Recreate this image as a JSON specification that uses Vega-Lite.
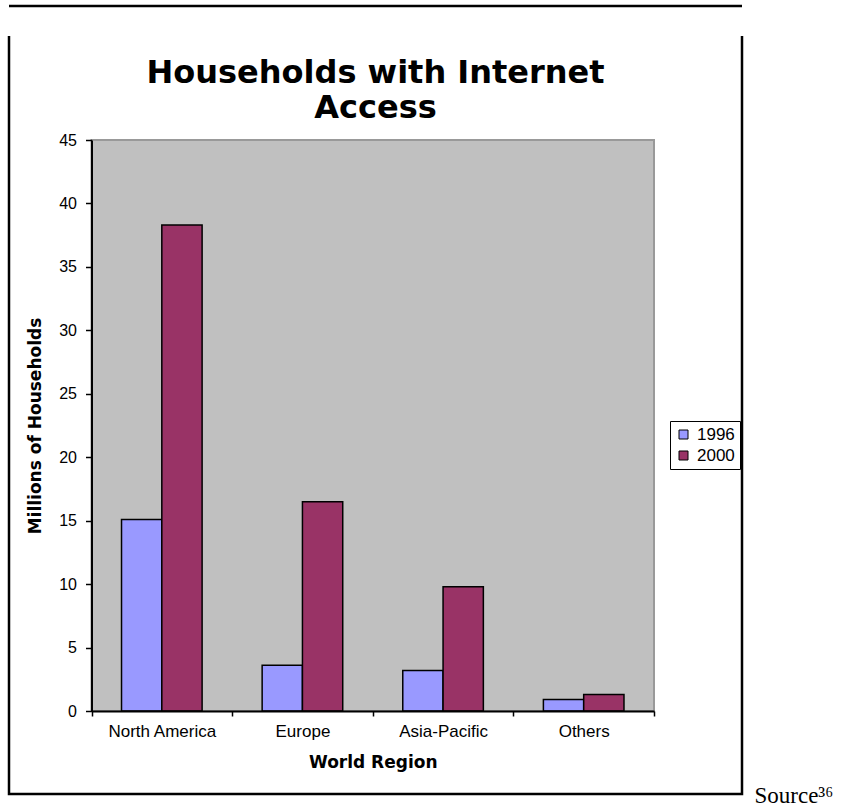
{
  "$schema": "https://vega.github.io/schema/vega-lite/v6.json",
  "width": 733,
  "height": 788,
  "autosize": {"type": "pad"},
  "padding": {"left": 9, "top": 6, "right": 0, "bottom": 0},
  "background": "white",
  "config": {
    "view": {"stroke": "black", "strokeWidth": 2.5, "strokeDash": [733, 30, 2249, 30], "fill": "white"},
    "font": "Liberation Sans"
  },
  "title": {
    "text": ["Households with Internet", "Access"],
    "font": "DejaVu Sans",
    "fontSize": 32,
    "fontWeight": "bold",
    "lineHeight": 35,
    "color": "black",
    "anchor": "middle",
    "frame": "group",
    "baseline": "top",
    "offset": -119
  },
  "resolve": {"scale": {"x": "independent"}, "axis": {"y": "independent"}},
  "layer": [
    {
      "data": {"values": [{}]},
      "mark": {"type": "rect", "fill": "#C0C0C0", "stroke": "#999999", "strokeWidth": 2},
      "encoding": {
        "x": {"datum": 0, "type": "quantitative", "scale": {"domain": [0, 1], "range": [82.5, 645]}, "axis": null},
        "x2": {"datum": 1},
        "y": {
          "datum": 0,
          "type": "quantitative",
          "axis": {
            "orient": "right",
            "domain": false,
            "ticks": false,
            "labels": false,
            "grid": false,
            "title": "Source³⁶",
            "titleAngle": 0,
            "titleAlign": "left",
            "titleBaseline": "alphabetic",
            "titleX": 12,
            "titleY": 796,
            "titleFont": "Liberation Serif",
            "titleFontSize": 23,
            "titleFontWeight": "normal",
            "titleColor": "black"
          }
        },
        "y2": {"datum": 45}
      }
    },
    {
      "data": {
        "values": [
          {"region": "North America", "year": "1996", "households": 15.1},
          {"region": "North America", "year": "2000", "households": 38.3},
          {"region": "Europe", "year": "1996", "households": 3.6},
          {"region": "Europe", "year": "2000", "households": 16.5},
          {"region": "Asia-Pacific", "year": "1996", "households": 3.2},
          {"region": "Asia-Pacific", "year": "2000", "households": 9.8},
          {"region": "Others", "year": "1996", "households": 0.9},
          {"region": "Others", "year": "2000", "households": 1.3}
        ]
      },
      "mark": {"type": "bar", "stroke": "black", "strokeWidth": 1.5},
      "encoding": {
        "x": {
          "field": "region",
          "type": "nominal",
          "sort": ["North America", "Europe", "Asia-Pacific", "Others"],
          "scale": {"range": [82.5, 645], "paddingInner": 0, "paddingOuter": 0},
          "title": "World Region",
          "axis": {
            "orient": "bottom",
            "offset": -83,
            "tickBand": "extent",
            "tickSize": 5,
            "tickColor": "black",
            "tickWidth": 1.5,
            "domainColor": "black",
            "domainWidth": 2,
            "labelAngle": 0,
            "labelFont": "Liberation Sans",
            "labelFontSize": 17,
            "labelColor": "black",
            "labelPadding": 7,
            "titleFont": "DejaVu Sans",
            "titleFontSize": 17,
            "titleFontWeight": "bold",
            "titleColor": "black",
            "titlePadding": 15,
            "grid": false,
            "zindex": 1
          }
        },
        "xOffset": {
          "field": "year",
          "type": "nominal",
          "scale": {"paddingInner": 0, "paddingOuter": 0.745}
        },
        "y": {
          "field": "households",
          "type": "quantitative",
          "scale": {"domain": [0, 45], "range": [705, 134], "nice": false},
          "title": "Millions of Households",
          "axis": {
            "orient": "left",
            "offset": -82.5,
            "values": [0, 5, 10, 15, 20, 25, 30, 35, 40, 45],
            "tickSize": 6,
            "tickColor": "black",
            "tickWidth": 1.5,
            "domainColor": "black",
            "domainWidth": 2,
            "labelFont": "Liberation Sans",
            "labelFontSize": 16,
            "labelColor": "black",
            "labelPadding": 9,
            "titleFont": "DejaVu Sans",
            "titleFontSize": 17,
            "titleFontWeight": "bold",
            "titleColor": "black",
            "titlePadding": 14,
            "grid": false,
            "zindex": 1
          }
        },
        "color": {
          "field": "year",
          "type": "nominal",
          "scale": {"domain": ["1996", "2000"], "range": ["#9999FF", "#993366"]},
          "legend": {
            "orient": "none",
            "legendX": 661,
            "legendY": 415,
            "title": null,
            "strokeColor": "black",
            "fillColor": "white",
            "padding": 5,
            "rowPadding": 3,
            "symbolType": "square",
            "symbolSize": 81,
            "symbolStrokeColor": "black",
            "symbolStrokeWidth": 1,
            "labelFont": "Liberation Sans",
            "labelFontSize": 17,
            "labelColor": "black",
            "labelOffset": 5
          }
        }
      }
    }
  ]
}
